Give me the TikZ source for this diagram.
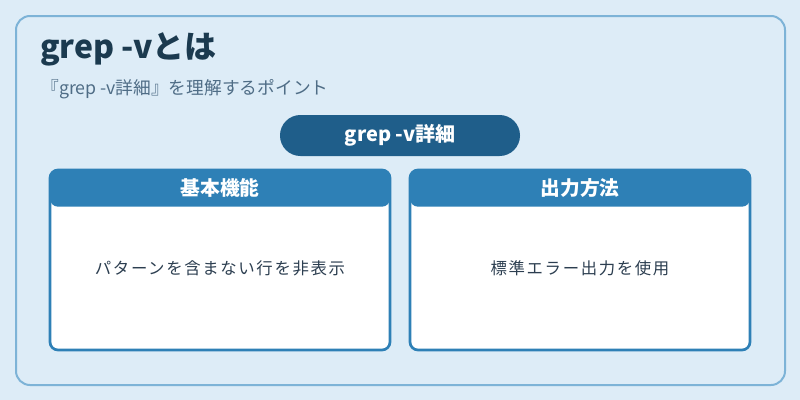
\documentclass[tikz,border=0pt]{standalone}
\usepackage{fontspec}
\setmainfont{Noto Sans CJK JP}
\newfontfamily\bodyfont[LetterSpace=10]{Noto Sans CJK JP}
\definecolor{bgc}{HTML}{DDECF7}
\definecolor{outerc}{HTML}{7DB3D7}
\definecolor{titlec}{HTML}{1B3A4F}
\definecolor{subc}{HTML}{4F6D86}
\definecolor{pillc}{HTML}{1F5E8A}
\definecolor{hdrc}{HTML}{2E80B6}
\definecolor{bodyc}{HTML}{2C3E50}
\tikzset{
  outerbox/.style={draw=outerc, line width=1.5pt, fill=bgc, rounded corners=10.5pt,
    minimum width=769*0.75pt, minimum height=369*0.75pt, inner sep=0pt},
  pillbox/.style={fill=pillc, rounded corners=15.3pt, minimum width=240*0.75pt,
    minimum height=41*0.75pt, inner sep=0pt, text=white, font=\bfseries\fontsize{15pt}{17pt}\selectfont},
  cardbox/.style={fill=white, draw=hdrc, line width=2pt, rounded corners=6pt,
    minimum width=340*0.75pt, minimum height=180*0.75pt, inner sep=0pt,
    path picture={\fill[hdrc] (path picture bounding box.north west) rectangle ([yshift=-27.5pt]path picture bounding box.north east);}},
  hdrtext/.style={text=white, font=\bfseries\fontsize{14.8pt}{17pt}\selectfont, inner sep=0pt},
  bodytext/.style={text=bodyc, font=\bodyfont\fontsize{12.3pt}{14pt}\selectfont, inner sep=0pt},
}
\begin{document}
\begin{tikzpicture}[x=0.75pt,y=-0.75pt]
\fill[bgc] (0,0) rectangle (800,400);
\useasboundingbox (0,0) rectangle (800,400);
\node[outerbox] (outer) at (400.5,200.5) {};
\node[anchor=base west, inner sep=0pt, text=titlec, font=\bfseries\fontsize{24pt}{26pt}\selectfont] (title) at (40,58) {grep -vとは};
\node[anchor=base west, inner sep=0pt, text=subc, font=\fontsize{13.3pt}{15pt}\selectfont] (sub) at (41,94) {『grep -v詳細』を理解するポイント};
\node[pillbox] (pill) at (400,135.5) {grep -v詳細};
\node[cardbox] (c1) at (220,260) {};
\node[cardbox] (c2) at (580,260) {};
\node[hdrtext] (h1) at (220,188) {基本機能};
\node[hdrtext] (h2) at (580,188) {出力方法};
\node[bodytext] (b1) at (220,268) {パターンを含まない行を非表示};
\node[bodytext] (b2) at (580,268) {標準エラー出力を使用};
\end{tikzpicture}
\end{document}
